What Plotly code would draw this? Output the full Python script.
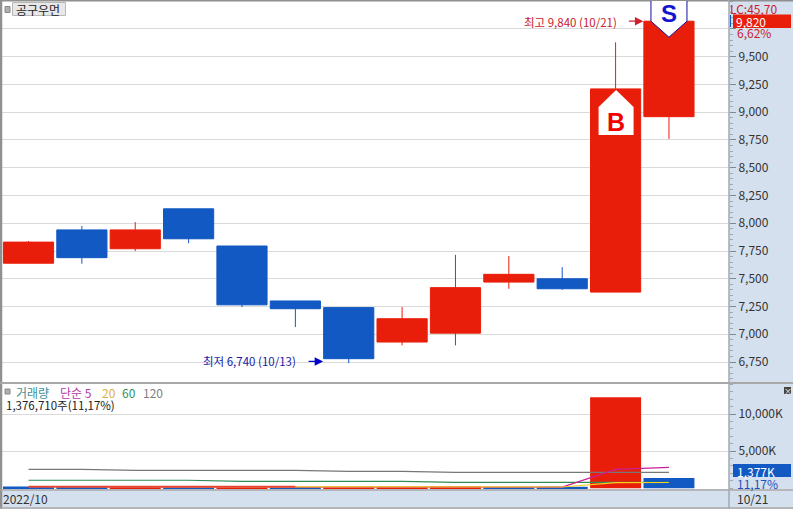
import plotly.graph_objects as go

dates = ["10/05","10/06","10/07","10/10","10/11","10/12","10/13","10/14","10/17","10/18","10/19","10/20","10/21"]
opens  = [7640,7940,7770,8130,7795,7300,7240,6930,7010,7470,7500,7380,8960]
highs  = [7840,7975,8010,8130,7795,7300,7240,7245,7715,7705,7605,9630,9840]
lows   = [7640,7635,7750,7820,7245,7065,6740,6900,6900,7410,7400,7380,8760]
closes = [7830,7690,7940,7860,7265,7230,6780,7140,7420,7540,7410,9210,9820]

volumes = [230,180,230,170,220,170,190,180,250,170,180,12300,1377]
vol_colors = ["#1259C3","#1259C3","#E91E0A","#1259C3","#E91E0A","#1259C3","#E91E0A","#E91E0A","#E91E0A","#1259C3","#1259C3","#E91E0A","#1259C3"]
ma5_early = [205,205,205,205,205,205]
ma5   = [205,150,150,150,150,150,150,170,170,160,140,2550,2820]
ma20  = [205,205,205,205,205,205,205,205,205,205,160,740,770]
ma60  = [1070,1070,1070,1070,930,930,930,930,780,780,780,780,780]
ma120 = [2550,2550,2415,2415,2415,2415,2280,2280,2145,2145,2145,2145,2145]

price_ticks = [6750,7000,7250,7500,7750,8000,8250,8500,8750,9000,9250,9500,9750]
price_labels = ["6,750","7,000","7,250","7,500","7,750","8,000","8,250","8,500","8,750","9,000","9,250","9,500",""]
vol_ticks = [5000,10000]
vol_labels = ["5,000K","10,000K"]

W, H = 793, 509
FONT = "Noto Sans CJK KR"
BLUE = "#1259C3"; RED = "#E91E0A"; PANEL = "#D5E0EE"; BORDER = "#A0A0A0"; GRID = "#DADADA"
px = lambda v: v / W
py = lambda v: 1 - v / H
xs = list(range(len(dates)))

fig = go.Figure()
fig.add_trace(go.Candlestick(
    x=xs, open=opens, high=highs, low=lows, close=closes, whiskerwidth=0,
    increasing=dict(line=dict(color=RED, width=1), fillcolor=RED),
    decreasing=dict(line=dict(color=BLUE, width=1), fillcolor=BLUE),
    xaxis="x", yaxis="y", hoverinfo="skip"))
fig.add_trace(go.Bar(x=xs, y=volumes, marker=dict(color=vol_colors, line_width=0), width=0.955,
                     xaxis="x", yaxis="y2", hoverinfo="skip"))
for vals, c in [(ma120, "#777777"), (ma60, "#2E8B57"), (ma5, "#C8209A"), (ma20, "#F7D020")]:
    fig.add_trace(go.Scatter(x=xs, y=vals, mode="lines", line=dict(color=c, width=1.2),
                             xaxis="x", yaxis="y2", hoverinfo="skip"))
fig.add_trace(go.Scatter(x=xs[:len(ma5_early)], y=ma5_early, mode="lines", line=dict(color="#E8432E", width=1.6),
                         xaxis="x", yaxis="y2", hoverinfo="skip"))

def T(x, y, text, color="#333333", size=12, anchor="left", bold=False, font=FONT):
    fig.add_annotation(xref="paper", yref="paper", x=px(x), y=py(y), text=f"<b>{text}</b>" if bold else text,
                       showarrow=False, xanchor=anchor, yanchor="middle",
                       font=dict(family=font, size=size, color=color), borderpad=0, borderwidth=0)

def R(x0, y0, x1, y1, fill, line=None, layer="above"):
    fig.add_shape(type="rect", xref="paper", yref="paper", x0=px(x0), x1=px(x1), y0=py(y0), y1=py(y1),
                  fillcolor=fill, line=dict(color=line or fill, width=1 if line else 0), layer=layer)

def L(x0, y0, x1, y1, color=BORDER, width=1, layer="above"):
    fig.add_shape(type="line", xref="paper", yref="paper", x0=px(x0), x1=px(x1), y0=py(y0), y1=py(y1),
                  line=dict(color=color, width=width), layer=layer)

# panels and frame
R(729, 0, W, H, PANEL, layer="below")
R(0, 490, W, H, PANEL, layer="below")
L(0, 0.5, W, 0.5, "#909090", 2)
L(1, 0, 1, H, "#909090", 2.5)
L(0, 383, W, 383, "#A8A8A8", 2)
L(0, 490, W, 490, "#A8A8A8", 1.5)
L(0, 508, W, 508, "#A8A8A8", 1.5)
L(729, 0, 729, H, "#A0A8B0", 1.5)

# B / S signal flags, anchored to the candles
fig.add_shape(type="path", xref="x", yref="y", xsizemode="pixel", ysizemode="pixel",
              xanchor=xs[11], yanchor=closes[11],
              path="M 0.5,-1 L 18,-18 L 18,-46 L -17,-46 L -17,-18 Z",
              fillcolor="white", line=dict(color="white", width=0))
fig.add_shape(type="path", xref="x", yref="y", xsizemode="pixel", ysizemode="pixel",
              xanchor=xs[12], yanchor=closes[12],
              path="M -18,22 L -18,0 L 0,-16 L 18,0 L 18,22",
              fillcolor="white", line=dict(color="#1010A0", width=1))
fig.add_annotation(x=xs[11], y=closes[11], yshift=-33, text="<b>B</b>", showarrow=False,
                   font=dict(family="Liberation Sans", size=25, color="#F00000"))
fig.add_annotation(x=xs[12], y=closes[12], yshift=8, text="<b>S</b>", showarrow=False,
                   font=dict(family="Liberation Sans", size=24, color="#1515D0"))

# hi / lo call-outs
fig.add_annotation(x=xs[12]-0.48, y=closes[12], ax=-16, ay=0, text="", showarrow=True, arrowhead=2,
                   arrowsize=1.4, arrowwidth=1.2, arrowcolor="#D02030")
fig.add_annotation(x=xs[6]-0.48, y=6755, ax=-16, ay=0, text="", showarrow=True, arrowhead=2,
                   arrowsize=1.4, arrowwidth=1.2, arrowcolor="#0000D0")
T(524, 22, "최고 9,840 (10/21)", "#C8202C", 11.5)
T(203, 361, "최저 6,740 (10/13)", "#1A1AA8", 11.5)

# title chip
R(5, 6.5, 10, 12.5, "#B0B0B0", "#888888")
R(12.5, 2.5, 65.5, 15.5, "#E8E8E8", "#B8B8B8")
T(16, 9, "공구우먼", "#222222", 12)

# volume legend
R(5, 389, 10, 394, "#B0B0B0", "#888888")
T(16, 392, "거래량", "#3D8E96", 12)
T(60, 392, "단순 5", "#B23AA5", 12)
T(102, 392, "20", "#E0B040", 12)
T(122, 392, "60", "#2F8F5F", 12)
T(143, 392, "120", "#808080", 12)
T(6, 405, "1,376,710주(11,17%)", "#222222", 11.5)

# right-side badges
T(730, 8, "LC:45,70", "#C8202C", 12)
R(733, 14.5, 791, 28, RED)
L(730.5, 15, 730.5, 27, BLUE, 1)
T(736, 21, "9,820", "white", 12)
T(737, 33, "6,62%", "#C8202C", 12)
R(733, 464, 791, 477, BLUE)
T(737, 471, "1,377K", "white", 12)
T(737, 483, "11,17%", "#1A4FC0", 12)
T(737, 498, "10/21", "#333333", 12)
T(3, 498, "2022/10", "#333333", 12)
R(784, 387, 791, 394, "#444444")
T(787.5, 390.5, "×", "white", 8, anchor="center")

fig.update_layout(
    width=W, height=H, margin=dict(l=0, r=0, t=0, b=0), autosize=False,
    paper_bgcolor=PANEL, plot_bgcolor="white", showlegend=False, hovermode=False, boxgap=0.06, boxgroupgap=0,
    barmode="overlay",
    xaxis=dict(domain=[px(2), px(729)], range=[-0.4965, 13.125], showgrid=False, zeroline=False,
               showticklabels=False, ticks="", rangeslider=dict(visible=False), anchor="y2"),
    yaxis=dict(domain=[py(383), py(1)], range=[6561, 10002], side="right", anchor="x",
               tickmode="array", tickvals=price_ticks, ticktext=price_labels,
               ticks="outside", ticklen=6, tickcolor="#808890", showgrid=True, gridcolor=GRID, gridwidth=1,
               zeroline=False, tickfont=dict(family=FONT, size=12, color="#333333"),
               minor=dict(dtick=50, ticks="outside", ticklen=3, tickcolor="#A0A8B0", showgrid=False)),
    yaxis2=dict(domain=[py(489), py(384)], range=[-110, 14080], side="right", anchor="x",
                tickmode="array", tickvals=vol_ticks, ticktext=vol_labels,
                ticks="outside", ticklen=6, tickcolor="#808890", showgrid=True, gridcolor=GRID, gridwidth=1,
                zeroline=False, tickfont=dict(family=FONT, size=12, color="#333333"),
                minor=dict(dtick=1000, ticks="outside", ticklen=3, tickcolor="#A0A8B0", showgrid=False)),
)

fig.write_html("out.html", config={"displayModeBar": False},
               post_script="document.body.style.margin='0';document.documentElement.style.overflow='hidden';")
